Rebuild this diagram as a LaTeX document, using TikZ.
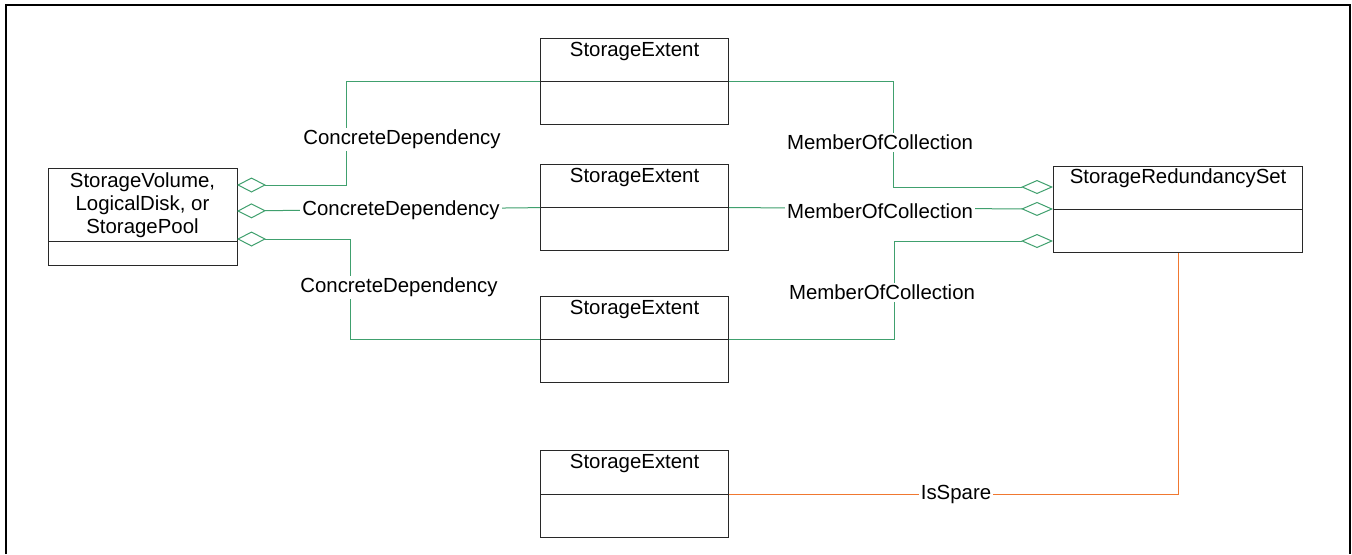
\documentclass[tikz,border=0pt]{standalone}
\usepackage{fontspec}
\setmainfont{Liberation Sans}
\usetikzlibrary{arrows.meta,calc}
\definecolor{assocgreen}{RGB}{64,160,110}
\definecolor{spareorange}{RGB}{240,120,48}
\definecolor{boxgray}{RGB}{40,40,40}
\begin{document}
\begin{tikzpicture}[x=0.5pt,y=-0.5pt,
  font=\fontsize{10.2pt}{11.5pt}\selectfont,
  cls/.style={draw=boxgray, line width=0.6pt, inner sep=0pt, anchor=north west},
  divider/.style={draw=boxgray, line width=0.6pt},
  assoc/.style={draw=assocgreen, line width=0.5pt},
  spare/.style={draw=spareorange, line width=0.55pt},
  aggstart/.style={{Diamond[open,length=14.5pt,width=7.5pt]}-},
  aggend/.style={-{Diamond[open,length=16pt,width=7pt]}},
  lbl/.style={fill=white, inner sep=1pt},
  clsname/.style={anchor=base, inner sep=0pt}]
\useasboundingbox (0,0) rectangle (1352,554);
\fill[white] (0,0) rectangle (1352,554);
% frame
\draw[line width=1.4pt] (6,554) -- (6,5) -- (1350,5) -- (1350,554);

% class boxes
\node[cls, minimum width=94.5pt, minimum height=48.5pt] (lv) at (48,168) {};
\node[cls, minimum width=94pt, minimum height=43pt] (se1) at (540,38) {};
\node[cls, minimum width=94pt, minimum height=43pt] (se2) at (540,164) {};
\node[cls, minimum width=94pt, minimum height=43pt] (se3) at (540,296) {};
\node[cls, minimum width=94pt, minimum height=43.5pt] (se4) at (540,450) {};
\node[cls, minimum width=124.5pt, minimum height=43pt] (srs) at (1053,166) {};

% dividers
\draw[divider] ($(lv.south west)+(0,-25)$) -- ($(lv.south east)+(0,-25)$);
\draw[divider] (se1.west) -- (se1.east);
\draw[divider] (se2.west) -- (se2.east);
\draw[divider] (se3.west) -- (se3.east);
\draw[divider] (se4.west) -- (se4.east);
\draw[divider] (srs.west) -- (srs.east);

% class names
\node[align=center, inner sep=0pt] (lvt) at (142.5,205) {StorageVolume,\\LogicalDisk, or\\StoragePool};
\node[clsname] (se1t) at ($(se1.north)+(0,18)$) {StorageExtent};
\node[clsname] (se2t) at ($(se2.north)+(0,18)$) {StorageExtent};
\node[clsname] (se3t) at ($(se3.north)+(0,18)$) {StorageExtent};
\node[clsname] (se4t) at ($(se4.north)+(0,18)$) {StorageExtent};
\node[clsname] (srst) at ($(srs.north)+(0,17)$) {StorageRedundancySet};

% attachment points
\coordinate (lvA) at (237,185);
\coordinate (lvB) at (237,211);
\coordinate (lvC) at (237,239);
\coordinate (srsA) at (1053,187);
\coordinate (srsB) at (1053,209);
\coordinate (srsC) at (1053,241);

% ConcreteDependency connectors
\draw[assoc, aggstart] (lvA) -- (346,185) |- (se1.west);
\draw[assoc, aggstart] (lvB) -- (se2.west);
\draw[assoc, aggstart] (lvC) -- (350,239) |- (se3.west);

% MemberOfCollection connectors
\draw[assoc, aggend] (se1.east) -| (893,187) -- (srsA);
\draw[assoc, aggend] (se2.east) -- (srsB);
\draw[assoc, aggend] (se3.east) -| (894,241) -- (srsC);

% IsSpare
\draw[spare] (se4.east) -| (srs.south);

% labels
\node[lbl] (cd1) at (402,139) {ConcreteDependency};
\node[lbl] (cd2) at (401,210) {ConcreteDependency};
\node[lbl] (cd3) at (399,287) {ConcreteDependency};
\node[lbl] (moc1) at (880,142) {MemberOfCollection};
\node[lbl] (moc2) at (880,211) {MemberOfCollection};
\node[lbl] (moc3) at (882,292) {MemberOfCollection};
\node[lbl] (isp) at (956,494) {IsSpare};
\end{tikzpicture}
\end{document}
